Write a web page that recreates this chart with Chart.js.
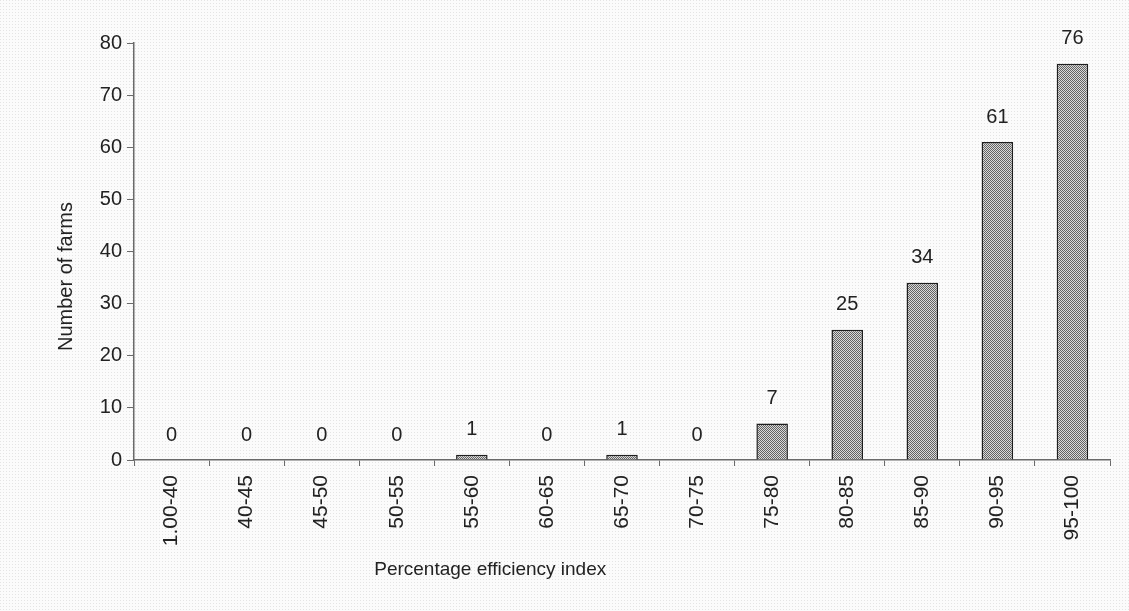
<!DOCTYPE html>
<html>
<head>
<meta charset="utf-8">
<script src="https://cdn.jsdelivr.net/npm/chart.js@4/dist/chart.umd.min.js"></script>
<style>
  html, body { margin: 0; padding: 0; background: #f7f7f7; }
  #wrap { width: 1129px; height: 611px; }
</style>
</head>
<body>
<div id="wrap"><canvas id="c" width="1129" height="611"></canvas></div>
<script>
const categories = ["1.00-40","40-45","45-50","50-55","55-60","60-65","65-70","70-75","75-80","80-85","85-90","90-95","95-100"];
const farmCounts = [0,0,0,0,1,0,1,0,7,25,34,61,76];
const yTicks = [0,10,20,30,40,50,60,70,80];
const xTitle = "Percentage efficiency index";
const yTitle = "Number of farms";

function makeBarPattern(c) {
  const p = document.createElement('canvas');
  p.width = 2; p.height = 2;
  const g = p.getContext('2d');
  g.fillStyle = '#dadada'; g.fillRect(0,0,2,2);
  g.fillStyle = '#626262'; g.fillRect(0,0,1,1); g.fillRect(1,1,1,1);
  return c.createPattern(p, 'repeat');
}
function makeBgPattern(c) {
  const p = document.createElement('canvas');
  p.width = 3; p.height = 3;
  const g = p.getContext('2d');
  g.fillStyle = '#fbfbfb'; g.fillRect(0,0,3,3);
  g.fillStyle = '#e4e4e4'; g.fillRect(0,0,1,1);
  return c.createPattern(p, 'repeat');
}

const FONT = "'Liberation Sans', Arial, sans-serif";
const ctx = document.getElementById('c').getContext('2d');

const bgPlugin = {
  id: 'bg',
  beforeDraw(chart) {
    const c = chart.ctx;
    c.save();
    c.fillStyle = makeBgPattern(c);
    c.fillRect(0, 0, chart.width, chart.height);
    c.restore();
  }
};

const labelsPlugin = {
  id: 'valueLabels',
  afterDatasetsDraw(chart) {
    const c = chart.ctx;
    const meta = chart.getDatasetMeta(0);
    c.save();
    c.font = "20px " + FONT;
    c.fillStyle = '#222';
    c.textAlign = 'center';
    c.textBaseline = 'middle';
    meta.data.forEach((bar, i) => {
      c.fillText(String(farmCounts[i]), bar.x, bar.y - 25);
    });
    c.restore();
  }
};

const titlesPlugin = {
  id: 'axisTitles',
  afterDraw(chart) {
    const c = chart.ctx;
    const xs = chart.scales.x, ys = chart.scales.y;
    c.save();
    c.font = "19px " + FONT;
    c.fillStyle = '#222';
    c.textAlign = 'center';
    c.textBaseline = 'middle';
    c.fillText(xTitle, xs.left + (xs.right - xs.left) * 0.365, 570);
    c.font = "20px " + FONT;
    c.translate(66, ys.top + (ys.bottom - ys.top) * 0.56);
    c.rotate(-Math.PI / 2);
    c.fillText(yTitle, 0, 0);
    c.restore();
  }
};

new Chart(ctx, {
  type: 'bar',
  data: {
    labels: categories,
    datasets: [{
      data: farmCounts,
      backgroundColor: makeBarPattern(ctx),
      borderColor: '#1e1e1e',
      borderWidth: 1.5,
      barPercentage: 0.42,
      categoryPercentage: 1.0
    }]
  },
  options: {
    responsive: false,
    animation: false,
    devicePixelRatio: 1,
    layout: { padding: { left: 0, right: 19, top: 43, bottom: 0 } },
    plugins: { legend: { display: false }, tooltip: { enabled: false } },
    scales: {
      x: {
        offset: true,
        grid: { display: true, offset: true, drawOnChartArea: false, drawTicks: true, tickLength: 6, color: '#6a6a6a', lineWidth: 1 },
        border: { display: true, color: '#6a6a6a', width: 1.5 },
        ticks: {
          minRotation: 90, maxRotation: 90, autoSkip: false,
          padding: 9,
          color: '#222',
          font: { family: FONT, size: 21 }
        },
        afterFit(scale) { scale.height = 151; }
      },
      y: {
        min: 0, max: 80,
        afterBuildTicks(scale) { scale.ticks = yTicks.map(v => ({ value: v })); },
        grid: { display: true, drawOnChartArea: false, drawTicks: true, tickLength: 7, color: '#6a6a6a' },
        border: { display: true, color: '#6a6a6a', width: 1.5 },
        ticks: {
          padding: 5,
          color: '#222',
          font: { family: FONT, size: 20 }
        },
        afterFit(scale) { scale.width = 134; }
      }
    }
  },
  plugins: [bgPlugin, labelsPlugin, titlesPlugin]
});
</script>
</body>
</html>
